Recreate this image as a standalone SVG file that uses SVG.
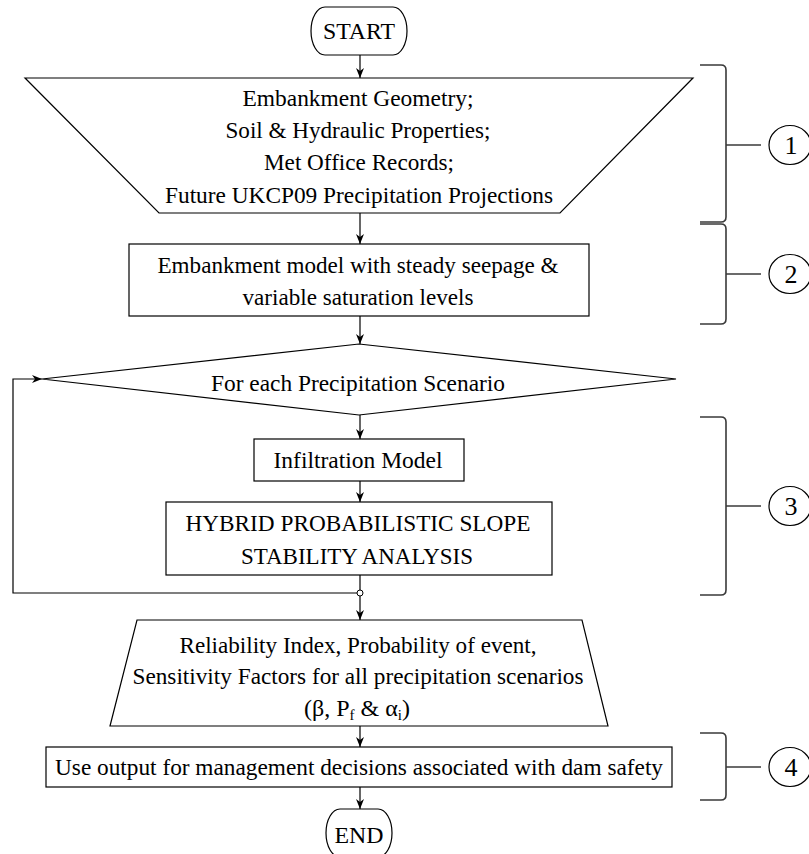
<svg xmlns="http://www.w3.org/2000/svg" width="809" height="854" viewBox="0 0 809 854">
<defs>
<style>
.s{fill:#fff;stroke:#000;stroke-width:1.2}
.c{fill:none;stroke:#000;stroke-width:1.2}
.b{fill:none;stroke:#3a3a3a;stroke-width:1.6}
.t{font-family:"Liberation Serif","Times New Roman",serif;font-size:24px;fill:#000;text-anchor:middle}
.n{font-family:"Liberation Serif","Times New Roman",serif;font-size:26px;fill:#000;text-anchor:middle}
</style>
<marker id="ah" viewBox="0 0 10 8" refX="10" refY="4" markerWidth="10" markerHeight="8" markerUnits="userSpaceOnUse" orient="auto">
<path d="M0,0 L10,4 L0,8 L3,4 z" fill="#000"/>
</marker>
</defs>
<rect width="809" height="854" fill="#fff"/>

<g id="connectors">
<line class="c" x1="360" y1="55" x2="360" y2="78" marker-end="url(#ah)"/>
<line class="c" x1="360" y1="213" x2="360" y2="244" marker-end="url(#ah)"/>
<line class="c" x1="360" y1="316" x2="360" y2="344" marker-end="url(#ah)"/>
<line class="c" x1="360" y1="415" x2="360" y2="439" marker-end="url(#ah)"/>
<line class="c" x1="360" y1="481" x2="360" y2="502" marker-end="url(#ah)"/>
<line class="c" x1="360" y1="575" x2="360" y2="590"/>
<line class="c" x1="360" y1="596" x2="360" y2="620" marker-end="url(#ah)"/>
<polyline class="c" points="357,593 13,593 13,379 42,379" marker-end="url(#ah)"/>
<circle cx="360" cy="593" r="3" fill="#fff" stroke="#000" stroke-width="1"/>
<line class="c" x1="360" y1="726" x2="360" y2="747" marker-end="url(#ah)"/>
<line class="c" x1="360" y1="787" x2="360" y2="809" marker-end="url(#ah)"/>
</g>

<g id="start">
<path class="s" d="M325,7 H393 A14,24 0 0 1 393,55 H325 A14,24 0 0 1 325,7 Z"/>
<text class="t" x="359" y="39" font-size="21" textLength="72" lengthAdjust="spacingAndGlyphs">START</text>
</g>

<g id="inputs">
<polygon class="s" points="25,78 693,78 560,213 159,213"/>
<text class="t" x="358" y="106" textLength="231" lengthAdjust="spacingAndGlyphs">Embankment Geometry;</text>
<text class="t" x="358" y="138" textLength="265" lengthAdjust="spacingAndGlyphs">Soil &amp; Hydraulic Properties;</text>
<text class="t" x="359" y="170" textLength="190" lengthAdjust="spacingAndGlyphs">Met Office Records;</text>
<text class="t" x="359" y="203" textLength="388" lengthAdjust="spacingAndGlyphs">Future UKCP09 Precipitation Projections</text>
</g>

<g id="embankment-model">
<rect class="s" x="129" y="244" width="460" height="72"/>
<text class="t" x="358" y="273" textLength="401" lengthAdjust="spacingAndGlyphs">Embankment model with steady seepage &amp;</text>
<text class="t" x="358" y="305" textLength="231" lengthAdjust="spacingAndGlyphs">variable saturation levels</text>
</g>

<g id="scenario-loop">
<polygon class="s" points="359,344 676,379 359,415 42,379"/>
<text class="t" x="358" y="391" textLength="294" lengthAdjust="spacingAndGlyphs">For each Precipitation Scenario</text>
</g>

<g id="infiltration">
<rect class="s" x="254" y="439" width="210" height="42"/>
<text class="t" x="358" y="468" textLength="169" lengthAdjust="spacingAndGlyphs">Infiltration Model</text>
</g>

<g id="hybrid">
<rect class="s" x="166" y="502" width="386" height="73"/>
<text class="t" x="358" y="531" textLength="345" lengthAdjust="spacingAndGlyphs">HYBRID PROBABILISTIC SLOPE</text>
<text class="t" x="357" y="564" textLength="232" lengthAdjust="spacingAndGlyphs">STABILITY ANALYSIS</text>
</g>

<g id="results">
<polygon class="s" points="137,620 582,620 608,726 110,726"/>
<text class="t" x="358" y="653" textLength="357" lengthAdjust="spacingAndGlyphs">Reliability Index, Probability of event,</text>
<text class="t" x="358" y="684" textLength="451" lengthAdjust="spacingAndGlyphs">Sensitivity Factors for all precipitation scenarios</text>
<text class="t" x="357" y="716">(β, P<tspan font-size="15" dy="4">f</tspan><tspan dy="-4"> &amp; α</tspan><tspan font-size="15" dy="4">i</tspan><tspan dy="-4">)</tspan></text>
</g>

<g id="decisions">
<rect class="s" x="46" y="747" width="626" height="40"/>
<text class="t" x="359" y="775" textLength="608" lengthAdjust="spacingAndGlyphs">Use output for management decisions associated with dam safety</text>
</g>

<g id="end">
<path class="s" d="M340,809 H378 A14,24 0 0 1 378,857 H340 A14,24 0 0 1 340,809 Z"/>
<text class="t" x="359" y="843" font-size="22" textLength="49" lengthAdjust="spacingAndGlyphs">END</text>
</g>

<g id="stage-1">
<path class="b" d="M700,65 H721 Q726,65 726,70 V217 Q726,222 721,222 H700"/>
<line class="b" x1="726" y1="145" x2="761" y2="145"/>
<ellipse cx="790" cy="145" rx="21" ry="19.5" fill="#fff" stroke="#000" stroke-width="1.2"/>
<text class="n" x="791" y="154">1</text>
</g>
<g id="stage-2">
<path class="b" d="M700,224 H721 Q726,224 726,229 V319 Q726,324 721,324 H700"/>
<line class="b" x1="726" y1="274" x2="761" y2="274"/>
<ellipse cx="790" cy="274" rx="21" ry="19.5" fill="#fff" stroke="#000" stroke-width="1.2"/>
<text class="n" x="791" y="283">2</text>
</g>
<g id="stage-3">
<path class="b" d="M700,417 H721 Q726,417 726,422 V590 Q726,595 721,595 H700"/>
<line class="b" x1="726" y1="506" x2="761" y2="506"/>
<ellipse cx="790" cy="506" rx="21" ry="19.5" fill="#fff" stroke="#000" stroke-width="1.2"/>
<text class="n" x="791" y="515">3</text>
</g>
<g id="stage-4">
<path class="b" d="M700,733 H721 Q726,733 726,738 V795 Q726,800 721,800 H700"/>
<line class="b" x1="726" y1="767" x2="761" y2="767"/>
<ellipse cx="790" cy="767" rx="21" ry="19.5" fill="#fff" stroke="#000" stroke-width="1.2"/>
<text class="n" x="791" y="776">4</text>
</g>
</svg>
